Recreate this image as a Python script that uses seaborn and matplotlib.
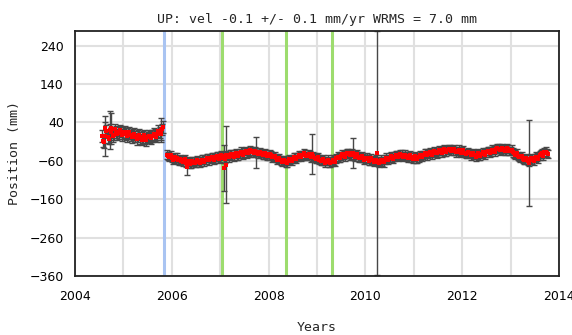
import numpy as np
import pandas as pd
import matplotlib
matplotlib.use("Agg")
import matplotlib.pyplot as plt
import seaborn as sns
from matplotlib.ticker import MultipleLocator, FixedLocator

# ---------------- data ----------------
title = "UP: vel -0.1 +/- 0.1 mm/yr WRMS = 7.0 mm"
xlabel = "Years"
ylabel = "Position (mm)"

step = 0.05
# segment 1 (before antenna change), sampled every 0.05 yr from 2004.55
seg1_start = 2004.55
seg1_vals = [5, -12, 18, -2, 14, 8, 15, 12, 16,
             12, 10, 11, 6, 8, 3, 5, 0, 2, -2, 1, 2, 4, 7, 9, 14, 22]
# interleaved samples (offset by half a step)
seg1b_vals = [-8, 25, 2, 20, 4, 22, 9, 19, 7, 15, 4, 14, 2, 10, -3, 8,
              -5, 6, -6, 5, -1, 10, 3, 17, 10, 28]

# segment 2, sampled every 0.05 yr from 2005.90
seg2_start = 2005.90
seg2_vals = [-44, -50,
             -53, -55, -52, -59, -60, -58, -65, -63, -67, -62, -64, -60, -62, -57, -58, -53, -55, -51, -54, -49,
             -52, -47, -55, -48, -44, -47, -43, -46, -41, -43, -38, -41, -37, -35, -39, -37, -42, -40, -44, -43,
             -47, -45, -50, -53, -56, -59, -61, -64, -60, -58, -55, -52, -50, -48, -46, -44, -47, -45, -50, -52,
             -54, -57, -59, -61, -60, -64, -62, -59, -54, -51, -47, -45, -43, -41, -44, -46, -45, -49, -51, -53,
             -56, -55, -59, -58, -61, -63, -60, -62, -57, -55, -52, -53, -49, -46, -47, -44, -47, -49, -48, -52,
             -50, -54, -51, -47, -45, -41, -43, -39, -40, -37, -38, -35, -33, -36, -32, -30, -33, -35, -34, -37,
             -36, -39, -41, -40, -43, -45, -44, -46, -42, -40, -38, -35, -36, -32, -30, -28, -31, -29, -33, -30,
             -34, -38, -44, -47, -51, -55, -57, -60, -56, -58, -53, -50, -46, -41, -38, -39]
seg2b_vals = [-48, -46,
              -57, -50, -58, -55, -63, -55, -61, -68, -60, -66, -58, -66, -57, -63, -53, -59, -50, -57, -47, -55,
              -45, -54, -46, -51, -42, -49, -40, -48, -36, -44, -35, -40, -33, -38, -34, -43, -37, -45, -39, -47,
              -42, -51, -48, -57, -53, -63, -58, -66, -55, -61, -50, -55, -46, -50, -41, -48, -42, -51, -47, -56,
              -51, -60, -56, -65, -57, -66, -57, -62, -49, -53, -43, -50, -39, -46, -40, -49, -42, -52, -47, -57,
              -52, -61, -54, -63, -57, -66, -57, -64, -52, -58, -48, -55, -45, -50, -42, -49, -44, -52, -45, -55,
              -47, -56, -46, -50, -40, -46, -37, -44, -35, -41, -33, -39, -30, -37, -29, -35, -30, -38, -31, -40,
              -33, -43, -37, -46, -39, -49, -41, -48, -37, -44, -34, -40, -31, -36, -27, -33, -26, -34, -27, -35,
              -31, -41, -40, -50, -48, -58, -53, -62, -53, -61, -49, -55, -42, -48, -36, -42]
seg1_err = 15
seg2_err = 11

# outlier points with large uncertainties
out_t = [2004.62, 2004.72, 2004.75, 2005.78, 2006.31, 2007.08, 2007.13, 2007.75,
         2008.89, 2009.75, 2010.23, 2013.39]
out_v = [5, 20, 25, 20, -75, -78, -70, -38, -42, -40, -40, -65]
out_e = [52, 50, 40, 31, 22, 60, 100, 40, 52, 40, 318, 112]

# event lines
blue_lines = [2005.845]
green_lines = [2007.03, 2008.35, 2009.30]

t1 = seg1_start + step * np.arange(len(seg1_vals))
t1b = t1 + step / 2
t2 = seg2_start + step * np.arange(len(seg2_vals))
t2b = t2 + step / 2
df = pd.DataFrame({
    "t": np.concatenate([t1, t1b, t2, t2b]),
    "v": np.array(seg1_vals + seg1b_vals + seg2_vals + seg2b_vals, dtype=float),
    "e": np.concatenate([np.full(len(t1) * 2, seg1_err),
                         np.full(len(t2) * 2, seg2_err)]).astype(float),
})
dfo = pd.DataFrame({"t": out_t, "v": out_v, "e": out_e})

# ---------------- plot ----------------
sns.set_style("white")
plt.rcParams["font.family"] = ["DejaVu Sans"]

fig = plt.figure(figsize=(5.72, 3.35), dpi=100)
ax = fig.add_axes([0.1311, 0.1761, 0.8462, 0.7314])

ax.set_xlim(2004, 2014)
ax.set_ylim(-360, 278)

ax.xaxis.set_major_locator(MultipleLocator(2))
ax.xaxis.set_minor_locator(FixedLocator([2005, 2007, 2009, 2011, 2013]))
ax.yaxis.set_major_locator(FixedLocator([-360, -260, -160, -60, 40, 140, 240]))
ax.yaxis.set_minor_locator(FixedLocator([-310, -210, -110, -10, 90, 190]))

ax.grid(True, which="major", axis="both", color="#e0e0e0", lw=1.5, zorder=0)
ax.grid(True, which="minor", axis="x", color="#e0e0e0", lw=1.5, zorder=0)

for x in blue_lines:
    ax.axvline(x, color="#a9c4f2", lw=2.2, zorder=1)
for x in green_lines:
    ax.axvline(x, color="#9ddc6e", lw=2.2, zorder=1)

ax.errorbar(df["t"], df["v"], yerr=df["e"], fmt="none", ecolor="#474747",
            elinewidth=1.0, capsize=2.2, capthick=1.0, zorder=2)
ax.errorbar(dfo["t"], dfo["v"], yerr=dfo["e"], fmt="none", ecolor="#474747",
            elinewidth=1.0, capsize=2.5, capthick=1.0, zorder=2)
sns.scatterplot(data=df, x="t", y="v", ax=ax, color="#ff0000", marker="s",
                s=5, linewidth=0, zorder=3, legend=False)
sns.scatterplot(data=dfo, x="t", y="v", ax=ax, color="#ff0000", marker="s",
                s=5, linewidth=0, zorder=3, legend=False)

for sp in ax.spines.values():
    sp.set_color("#222222")
    sp.set_linewidth(1.3)

ax.tick_params(axis="both", which="both", direction="in", colors="#222222",
               labelcolor="#000000", labelsize=9)
ax.tick_params(axis="both", which="major", length=5, width=1)
ax.tick_params(axis="both", which="minor", length=5, width=1)
ax.tick_params(axis="x", which="both", pad=10)
ax.tick_params(axis="y", which="both", pad=8)

ax.set_title(title, fontsize=9.5, family="DejaVu Sans Mono", pad=6)
ax.set_xlabel(xlabel, fontsize=9.5, family="DejaVu Sans Mono", labelpad=13)
ax.set_ylabel(ylabel, fontsize=9.5, family="DejaVu Sans Mono", labelpad=6)

fig.savefig("out.png", dpi=100)
